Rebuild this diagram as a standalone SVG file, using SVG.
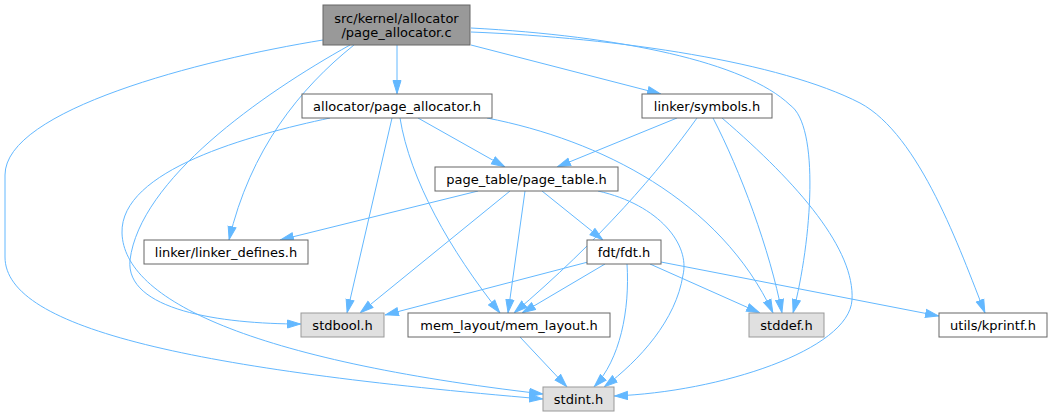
<svg xmlns="http://www.w3.org/2000/svg" width="1053" height="417" viewBox="0 0 1053 417">
<defs>
<marker id="a" markerUnits="userSpaceOnUse" markerWidth="14" markerHeight="10" viewBox="0 0 14 10" refX="14" refY="5" orient="auto">
<path d="M0.5,1 L13.5,5 L0.5,9 z" fill="#63b8ff" stroke="#63b8ff" stroke-width="1"/>
</marker>
<style>
rect{fill:#fff;stroke:#666;stroke-width:1}
.sys rect{fill:#e0e0e0;stroke:#999}
.main rect{fill:#999;stroke:#666}
text{font-family:"DejaVu Sans",sans-serif;font-size:13px;text-anchor:middle;fill:#000}
#edges path{fill:none;stroke:#63b8ff;stroke-width:1;marker-end:url(#a)}
</style>
</defs>
<rect x="0" y="0" width="1053" height="417" style="fill:#fff;stroke:none"/>
<g id="edges">
<path d="M397,45 L397,94"/>
<path d="M471,45 L661,94"/>
<path d="M471,28 C620,36 745,62 790,105 C820,126 812,240 793,313"/>
<path d="M471,32 C620,38 780,62 860,103 C920,135 960,250 985,313"/>
<path d="M323,40 C200,60 5,110 5,175 L5,257 C5,330 200,370 543,399"/>
<path d="M350,45 C260,95 140,180 130,260 C125,310 220,324 301,324"/>
<path d="M354,45 C300,88 250,150 229,240"/>
<path d="M418,118 L505,167"/>
<path d="M392,118 L347,313"/>
<path d="M400,118 C410,180 450,250 500,313"/>
<path d="M487,118 C600,140 720,200 773,313"/>
<path d="M330,118 C250,135 120,170 122,233 C124,300 250,360 543,394"/>
<path d="M677,118 L557,167"/>
<path d="M697,118 C660,170 600,240 514,313"/>
<path d="M713,118 C740,170 770,250 782,313"/>
<path d="M722,118 C800,185 855,250 852,300 C849,350 720,392 614,396"/>
<path d="M478,191 L280,240"/>
<path d="M542,191 L603,240"/>
<path d="M510,191 L360,313"/>
<path d="M525,191 L508,313"/>
<path d="M598,191 C660,205 690,245 683,275 C676,320 640,360 604,387"/>
<path d="M588,262 L385,315"/>
<path d="M605,264 L522,313"/>
<path d="M627,264 C630,310 620,360 594,387"/>
<path d="M650,264 L760,313"/>
<path d="M661,262 L939,316"/>
<path d="M520,337 L567,387"/>
</g>
<g id="node_main" class="main"><rect x="323" y="5" width="147" height="40"/><text x="396.5" y="22.5">src/kernel/allocator</text><text x="396.5" y="37">/page_allocator.c</text></g>
<g id="node_page_allocator_h"><rect x="302" y="94" width="190" height="24"/><text x="397" y="110.5">allocator/page_allocator.h</text></g>
<g id="node_symbols_h"><rect x="642" y="94" width="130" height="24"/><text x="707" y="110.5">linker/symbols.h</text></g>
<g id="node_page_table_h"><rect x="435" y="167" width="183" height="24"/><text x="526.5" y="183.5">page_table/page_table.h</text></g>
<g id="node_linker_defines_h"><rect x="144" y="240" width="164" height="24"/><text x="226" y="256.5">linker/linker_defines.h</text></g>
<g id="node_fdt_h"><rect x="587" y="240" width="74" height="24"/><text x="624" y="256.5">fdt/fdt.h</text></g>
<g id="node_stdbool_h" class="sys"><rect x="301" y="313" width="83" height="24"/><text x="342.5" y="329.5">stdbool.h</text></g>
<g id="node_mem_layout_h"><rect x="408" y="313" width="202" height="24"/><text x="509" y="329.5">mem_layout/mem_layout.h</text></g>
<g id="node_stddef_h" class="sys"><rect x="749" y="313" width="75" height="24"/><text x="786.5" y="329.5">stddef.h</text></g>
<g id="node_kprintf_h"><rect x="939" y="313" width="108" height="24"/><text x="993" y="329.5">utils/kprintf.h</text></g>
<g id="node_stdint_h" class="sys"><rect x="543" y="387" width="71" height="24"/><text x="578.5" y="403.5">stdint.h</text></g>
</svg>
